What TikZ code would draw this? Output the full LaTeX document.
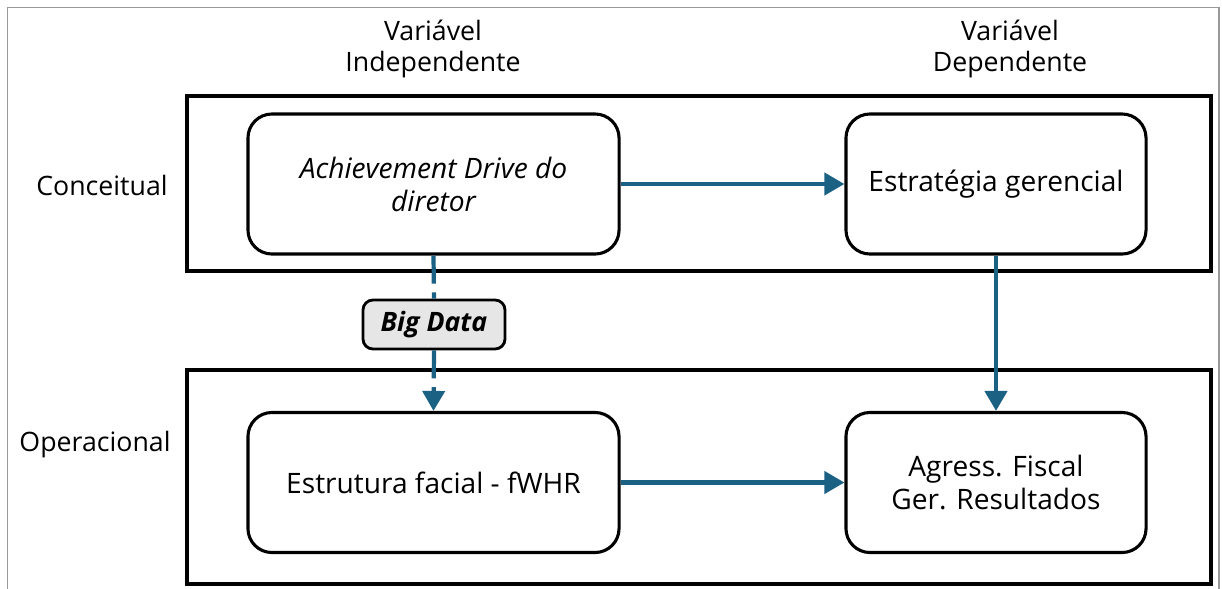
\documentclass[tikz,border=0pt]{standalone}
\usepackage{fontspec}
\setmainfont{Open Sans}
\usetikzlibrary{arrows.meta}
\definecolor{seta}{HTML}{1B6184}
\definecolor{cinza}{HTML}{E6E6E6}
\begin{document}
\begin{tikzpicture}[x=0.025cm, y=-0.025cm,
	caixa/.style={draw=black, line width=2.2pt, rounded corners=0.6cm, shape=rectangle, align=center, minimum height=3.5cm, font=\fontsize{20}{23.5}\selectfont},
	grupo/.style={draw=black, line width=2.2pt},
	rotulo/.style={align=center, font=\fontsize{19}{21.5}\selectfont},
	ligacao/.style={draw=seta, line width=3pt, -{Triangle[length=0.5cm, width=0.55cm]}},
	tracejado/.style={draw=seta, line width=3pt, dash pattern=on 0.7cm off 0.22cm}]
	\useasboundingbox (0,0) rectangle (1222,588);
	\draw[gray!80, line width=1.3pt] (7.5,600) -- (7.5,7.5) -- (1219,7.5) -- (1219,600);

	\draw[grupo] (187,96) rectangle (1211,271);
	\draw[grupo] (187,370) rectangle (1211,584);

	\node[rotulo] (var_ind) at (433,49) {Variável\\Independente};
	\node[rotulo] (var_dep) at (1010,49) {Variável\\Dependente};
	\node[rotulo] (conceitual) at (102,185) {Conceitual};
	\node[rotulo] (operacional) at (95,445) {Operacional};

	\node[caixa, minimum width=9.275cm] (c_ach) at (433.5,184) {\itshape Achievement Drive do\\\itshape diretor};
	\node[caixa, minimum width=7.5cm] (c_est) at (996,184) {Estratégia gerencial};
	\node[caixa, minimum width=9.275cm] (o_fwhr) at (433.5,482.5) {Estrutura facial - fWHR};
	\node[caixa, minimum width=7.5cm] (o_agr) at (996,482.5) {Agress. Fiscal\\Ger. Resultados};

	\node[draw=black, fill=cinza, line width=2pt, rounded corners=0.25cm, minimum width=3.55cm, minimum height=1.225cm, font=\fontsize{19}{22}\selectfont\bfseries\itshape] (big_data) at (434,324.5) {Big Data};

	\draw[ligacao] (c_ach.east) -- (c_est.west);
	\draw[ligacao] (o_fwhr.east) -- (o_agr.west);
	\draw[ligacao] (c_est.south) -- (o_agr.north);
	\draw[tracejado] (c_ach.south) -- (big_data.north);
	\draw[tracejado, -{Triangle[length=0.5cm, width=0.55cm]}] (big_data.south) -- (o_fwhr.north);
\end{tikzpicture}
\end{document}
